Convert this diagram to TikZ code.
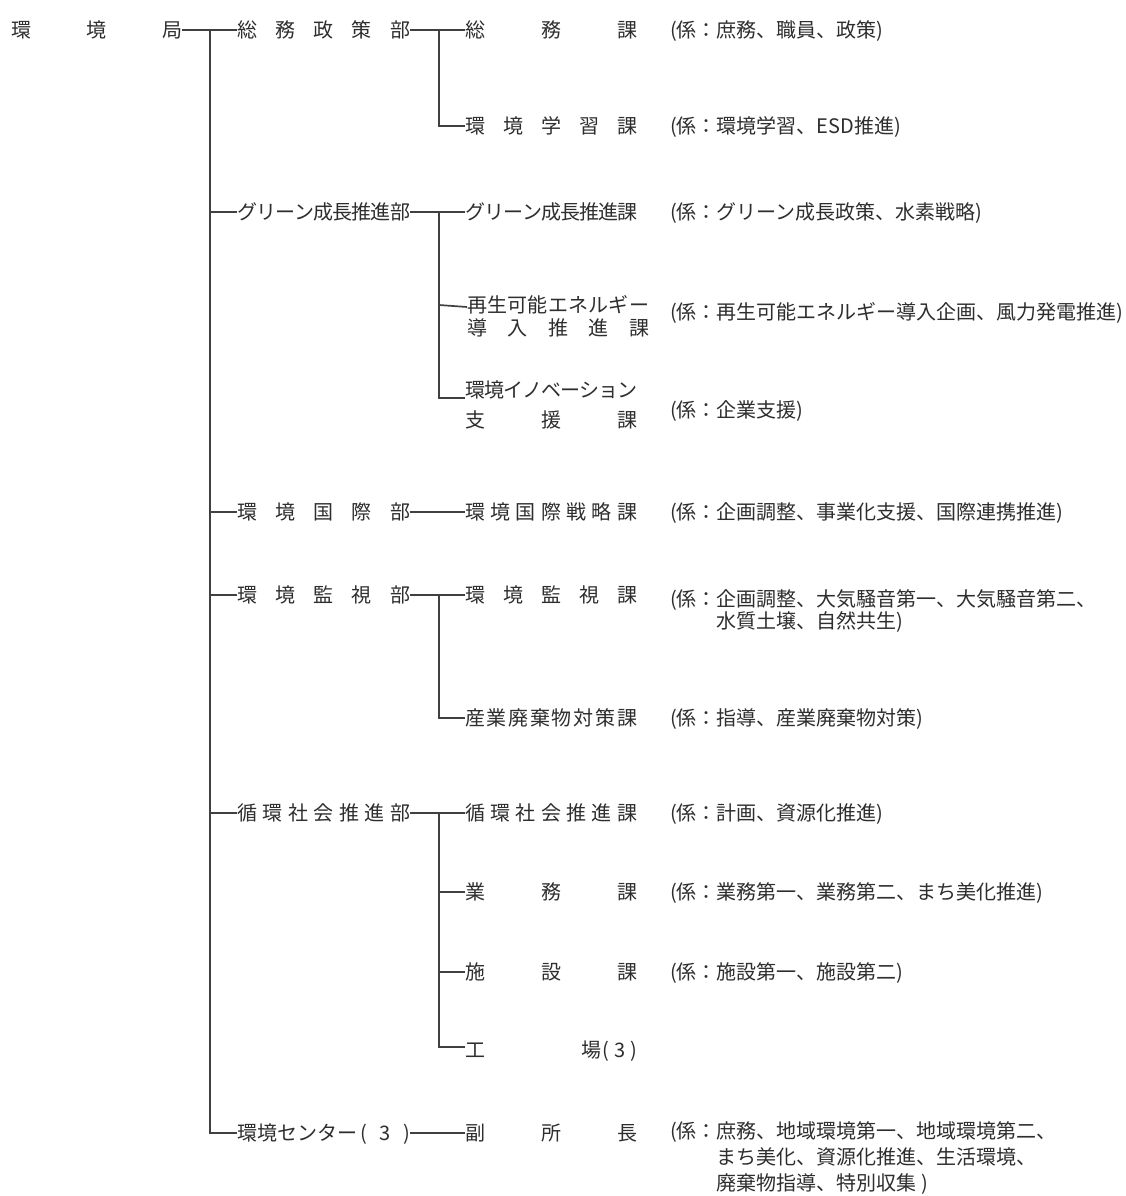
\documentclass[tikz,border=0pt]{standalone}
\usepackage{fontspec}
\setmainfont{Noto Sans CJK JP}
\usetikzlibrary{calc}
\definecolor{txtgray}{HTML}{2E2E2E}
\definecolor{linegray}{HTML}{404040}
\newcommand{\jpf}{\fontsize{20pt}{24pt}\selectfont}
\newcommand{\sprd}[2]{\makebox[#1][s]{#2}}
\newcommand{\spg}{\hskip 0pt plus 1fil minus 1fil\relax}
\tikzset{
  lbl/.style={anchor=west, inner sep=0pt, outer sep=0pt, text height=17.6pt, text depth=2.4pt, text=txtgray, font=\jpf},
  conn/.style={draw=linegray, line width=1.7pt},
}
\begin{document}
\begin{tikzpicture}[x=1pt,y=-1pt]
\useasboundingbox[fill=white] (0,0) rectangle (1126,1196);
% level A
\node[lbl] (kyoku) at (11,30) {\sprd{171pt}{環\spg 境\spg 局}};
% level B
\node[lbl] (b1) at (237,30) {\sprd{173pt}{総\spg 務\spg 政\spg 策\spg 部}};
\node[lbl] (b2) at (237,212) {\sprd{173pt}{グ\spg リ\spg ー\spg ン\spg 成\spg 長\spg 推\spg 進\spg 部}};
\node[lbl] (b3) at (237,512) {\sprd{173pt}{環\spg 境\spg 国\spg 際\spg 部}};
\node[lbl] (b4) at (237,595) {\sprd{173pt}{環\spg 境\spg 監\spg 視\spg 部}};
\node[lbl] (b5) at (237,813) {\sprd{173pt}{循\spg 環\spg 社\spg 会\spg 推\spg 進\spg 部}};
\node[lbl] (b6) at (237,1133) {\sprd{173pt}{環境センター\hspace{3pt}(\hfill 3\hfill )}};
% level C
\node[lbl] (c1) at (465,30) {\sprd{172pt}{総\spg 務\spg 課}};
\node[lbl] (c2) at (465,126) {\sprd{172pt}{環\spg 境\spg 学\spg 習\spg 課}};
\node[lbl] (c3) at (465,212) {\sprd{172pt}{グ\spg リ\spg ー\spg ン\spg 成\spg 長\spg 推\spg 進\spg 課}};
\node[lbl] (c4a) at (467,305) {\sprd{182pt}{再\spg 生\spg 可\spg 能\spg エ\spg ネ\spg ル\spg ギ\spg ー}};
\node[lbl] (c4b) at (467,328) {\sprd{182pt}{導\spg 入\spg 推\spg 進\spg 課}};
\node[lbl] (c5a) at (465,390) {\sprd{172pt}{環\spg 境\spg イ\spg ノ\spg ベ\spg ー\spg シ\spg ョ\spg ン}};
\node[lbl] (c5b) at (465,420) {\sprd{172pt}{支\spg 援\spg 課}};
\node[lbl] (c6) at (465,512) {\sprd{172pt}{環\spg 境\spg 国\spg 際\spg 戦\spg 略\spg 課}};
\node[lbl] (c7) at (465,595) {\sprd{172pt}{環\spg 境\spg 監\spg 視\spg 課}};
\node[lbl] (c8) at (465,718) {\sprd{172pt}{産\spg 業\spg 廃\spg 棄\spg 物\spg 対\spg 策\spg 課}};
\node[lbl] (c9) at (465,813) {\sprd{172pt}{循\spg 環\spg 社\spg 会\spg 推\spg 進\spg 課}};
\node[lbl] (c10) at (465,892) {\sprd{172pt}{業\spg 務\spg 課}};
\node[lbl] (c11) at (465,972) {\sprd{172pt}{施\spg 設\spg 課}};
\node[lbl] (c12) at (465,1050) {\sprd{172pt}{工\spg 場\hspace{1pt}(\hspace{5pt}3\hspace{5pt})}};
\node[lbl] (c13) at (465,1133) {\sprd{172pt}{副\spg 所\spg 長}};
% level D
\node[lbl] (d1) at (670,30) {(係：庶務、職員、政策)};
\node[lbl] (d2) at (670,126) {(係：環境学習、ESD推進)};
\node[lbl] (d3) at (670,212) {(係：グリーン成長政策、水素戦略)};
\node[lbl] (d4) at (670,312) {(係：再生可能エネルギー導入企画、風力発電推進)};
\node[lbl] (d5) at (670,410) {(係：企業支援)};
\node[lbl] (d6) at (670,512) {(係：企画調整、事業化支援、国際連携推進)};
\node[lbl] (d7a) at (670,599) {(係：企画調整、大気騒音第一、大気騒音第二、};
\node[lbl] (d7b) at (670,621) {\phantom{(係：}水質土壌、自然共生)};
\node[lbl] (d8) at (670,718) {(係：指導、産業廃棄物対策)};
\node[lbl] (d9) at (670,813) {(係：計画、資源化推進)};
\node[lbl] (d10) at (670,892) {(係：業務第一、業務第二、まち美化推進)};
\node[lbl] (d11) at (670,972) {(係：施設第一、施設第二)};
\node[lbl] (d13a) at (670,1131) {(係：庶務、地域環境第一、地域環境第二、};
\node[lbl] (d13b) at (670,1157) {\phantom{(係：}まち美化、資源化推進、生活環境、};
\node[lbl] (d13c) at (670,1183) {\phantom{(係：}廃棄物指導、特別収集 )};
% connectors
\coordinate (T) at (210,30);
\draw[conn] (kyoku.east) -- (b1.west);
\draw[conn] (T) |- (b6.west);
\draw[conn] (T |- b2.west) -- (b2.west);
\draw[conn] (T |- b3.west) -- (b3.west);
\draw[conn] (T |- b4.west) -- (b4.west);
\draw[conn] (T |- b5.west) -- (b5.west);
% 総務政策部
\coordinate (V1) at (439,30);
\draw[conn] (b1.east) -- (c1.west);
\draw[conn] (V1) |- (c2.west);
% グリーン成長推進部
\coordinate (V2) at (439,212);
\draw[conn] (b2.east) -- (c3.west);
\draw[conn] (V2) |- ([yshift=2pt]c5a.south west);
\draw[conn] (V2 |- c4a.west) -- ([yshift=-2pt]c4a.west);
% 環境国際部
\draw[conn] (b3.east) -- (c6.west);
% 環境監視部
\coordinate (V4) at (439,595);
\draw[conn] (b4.east) -- (c7.west);
\draw[conn] (V4) |- (c8.west);
% 循環社会推進部
\coordinate (V5) at (439,813);
\draw[conn] (b5.east) -- (c9.west);
\draw[conn] (V5) |- ([yshift=3pt]c12.west);
\draw[conn] (V5 |- c10.west) -- (c10.west);
\draw[conn] (V5 |- c11.west) -- (c11.west);
% 環境センター
\draw[conn] (b6.east) -- (c13.west);
\end{tikzpicture}
\end{document}
